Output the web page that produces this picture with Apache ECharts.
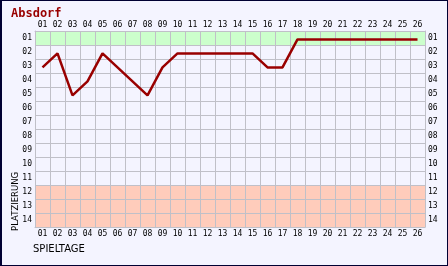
<!DOCTYPE html>
<html>
<head>
<meta charset="utf-8">
<script src="https://cdn.jsdelivr.net/npm/echarts@6/dist/echarts.min.js"></script>
<style>
html,body{margin:0;padding:0;background:#f4f4ff;}
#chart{position:absolute;left:0;top:0;width:448px;height:266px;}
#frame{position:absolute;left:0;top:0;width:448px;height:266px;box-sizing:border-box;border:1px solid #000033;border-left-width:2px;pointer-events:none;}
</style>
</head>
<body>
<div id="chart"></div>
<div id="frame"></div>
<script>
const title = 'Absdorf';
const days = ['01','02','03','04','05','06','07','08','09','10','11','12','13','14','15','16','17','18','19','20','21','22','23','24','25','26'];
const ranks = ['01','02','03','04','05','06','07','08','09','10','11','12','13','14'];
const positions = [3,2,5,4,2,3,4,5,3,2,2,2,2,2,2,3,3,1,1,1,1,1,1,1,1,1];
const yName = 'PLATZIERUNG';
const xName = 'SPIELTAGE';

const bandColors = ranks.map((r, i) => i === 0 ? '#ccffcc' : (i >= 11 ? '#ffccbb' : '#f4f4ff'));
const gridColor = '#c0c0c8';
const lblFont = {fontFamily: 'DejaVu Sans Mono', fontSize: 8, color: '#000000'};

const chart = echarts.init(document.getElementById('chart'), null, {renderer: 'canvas'});
chart.setOption({
  backgroundColor: '#f4f4ff',
  animation: false,
  title: {
    text: title, left: 6, top: 3,
    textStyle: {fontFamily: 'DejaVu Sans Mono', fontWeight: 'bold', fontSize: 12, color: '#990000'}
  },
  grid: {left: 35, top: 31, width: 390, height: 196, containLabel: false},
  xAxis: [
    {type: 'category', data: days, position: 'bottom', boundaryGap: true,
     axisLine: {show: true, lineStyle: {color: gridColor}}, axisTick: {show: false},
     axisLabel: Object.assign({margin: 3, interval: 0}, lblFont),
     splitLine: {show: true, interval: 0, lineStyle: {color: gridColor, width: 1}}},
    {type: 'category', data: days, position: 'top', boundaryGap: true,
     axisLine: {show: true, lineStyle: {color: gridColor}}, axisTick: {show: false},
     axisLabel: Object.assign({margin: 2, interval: 0}, lblFont),
     splitLine: {show: false}}
  ],
  yAxis: [
    {type: 'category', data: ranks, inverse: true, position: 'left', boundaryGap: true,
     axisLine: {show: true, lineStyle: {color: gridColor}}, axisTick: {show: false},
     axisLabel: Object.assign({margin: 3, interval: 0}, lblFont),
     splitLine: {show: true, interval: 0, lineStyle: {color: gridColor, width: 1}},
     splitArea: {show: true, interval: 0, areaStyle: {color: bandColors}}},
    {type: 'category', data: ranks, inverse: true, position: 'right', boundaryGap: true,
     axisLine: {show: true, lineStyle: {color: gridColor}}, axisTick: {show: false},
     axisLabel: Object.assign({margin: 3, interval: 0}, lblFont),
     splitLine: {show: false}},
    {type: 'value', inverse: true, min: 0.4, max: 14.4, show: false}
  ],
  graphic: [
    {type: 'text', left: 33, top: 244,
     style: {text: xName, fontFamily: 'DejaVu Sans', fontSize: 10, fill: '#000000'}},
    {type: 'text', x: 11, y: 231, rotation: Math.PI / 2,
     style: {text: yName, fontFamily: 'DejaVu Sans', fontSize: 8.5, fill: '#000000', textVerticalAlign: 'top'}}
  ],
  series: [{
    type: 'line', xAxisIndex: 0, yAxisIndex: 2, data: positions,
    showSymbol: false, symbol: 'none',
    lineStyle: {color: '#990000', width: 2.5}, z: 5
  }]
});
</script>
</body>
</html>
